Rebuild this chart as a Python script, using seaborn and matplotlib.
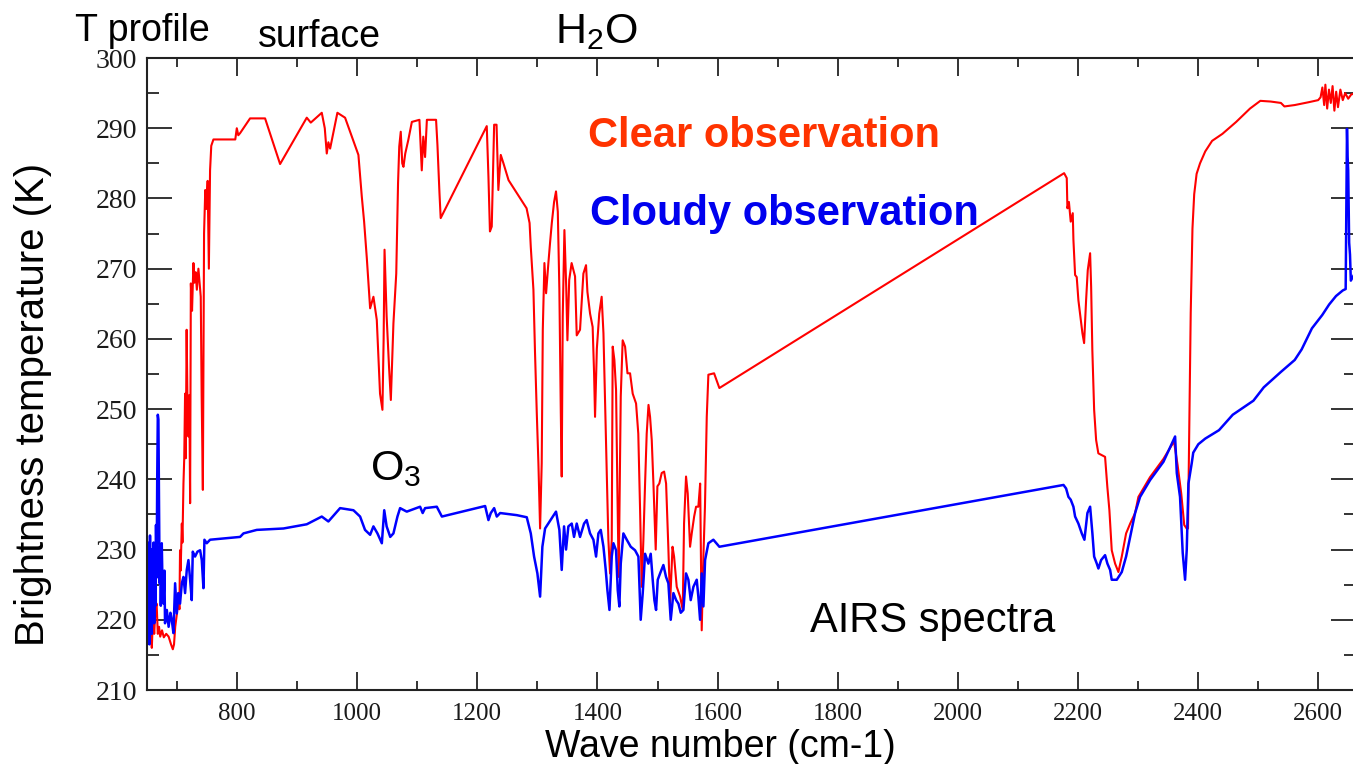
"""
Spectres AIRS : température de brillance, observation claire vs nuageuse
"""

import numpy as np
import pandas as pd
import matplotlib
matplotlib.use("Agg")
import matplotlib.pyplot as plt
from matplotlib.ticker import MultipleLocator
import seaborn as sns


# Observation claire (rouge) : nombre d'onde (cm-1) et température (K)
wn_clear = [
    650, 652, 653, 654, 656, 658, 660, 662, 664, 666, 668, 670, 672, 675, 678,
    682, 686, 690, 693, 695, 697, 700, 702, 704, 705, 706, 708, 709, 710.7, 712,
    713.4, 714.5, 716, 717.5, 719, 720.5, 721.8, 723, 725, 727.3, 729, 731, 733,
    735.6, 737.5, 739.5, 741, 743, 745, 747, 749, 751, 753, 755, 757, 760.6, 797,
    799.5, 802, 805, 821.6, 846.6, 871.6, 916, 922.7, 941, 946, 949.3, 952, 954.9,
    967, 979.8, 1002, 1007.6, 1011.5, 1016, 1021.5, 1027, 1032.6, 1038, 1042,
    1044, 1045.5, 1049, 1053, 1056, 1060.3, 1065, 1068, 1070, 1072.5, 1075, 1077,
    1080, 1085, 1091, 1103.6, 1107.5, 1110, 1113, 1116, 1131.3, 1133.6, 1137,
    1139, 1215.7, 1218.5, 1221, 1224, 1228, 1232, 1235, 1239, 1243.5, 1252, 1282,
    1287, 1289, 1293.4, 1296, 1299, 1301.7, 1304.5, 1307.2, 1309, 1311.7, 1314.5,
    1318.3, 1321, 1324, 1327.8, 1331, 1334, 1336.6, 1339, 1340.5, 1342.2, 1345,
    1348, 1350, 1353, 1357, 1362.7, 1365.5, 1371, 1376.6, 1381, 1383.3, 1387.7,
    1392, 1394.4, 1396, 1399, 1403, 1407, 1410, 1412.7, 1415.5, 1418.2, 1421,
    1423.8, 1425.4, 1428.2, 1431, 1433.2, 1435.4, 1438.8, 1442, 1446, 1450,
    1454.3, 1458.7, 1464.3, 1468, 1471, 1473.7, 1476.5, 1479.3, 1482, 1485,
    1487.6, 1490.4, 1493.2, 1497, 1499.8, 1503, 1507, 1511, 1514.3, 1518, 1521,
    1525, 1527.6, 1532, 1537.6, 1542, 1544.2, 1547.5, 1550.3, 1554.2, 1557, 1561,
    1564.2, 1568, 1571, 1573.6, 1576.4, 1579, 1582, 1584.7, 1594.2, 1603, 2177,
    2181.4, 2182.5, 2185, 2188, 2191.4, 2192.5, 2195.3, 2198, 2200.8, 2204.7,
    2207.5, 2210.3, 2213.6, 2216.4, 2220.3, 2222, 2224, 2227, 2230.3, 2234,
    2245.2, 2249, 2252.4, 2256.3, 2261.9, 2267.4, 2273, 2280.2, 2287, 2295.2,
    2300.7, 2320, 2342.3, 2360, 2366, 2372, 2377, 2381, 2383.3, 2385, 2387.8,
    2390.7, 2393.6, 2397.6, 2403.3, 2412, 2423.4, 2440.6, 2463.5, 2486.5, 2503.7,
    2520.9, 2538, 2543.8, 2561, 2584, 2600, 2604, 2607, 2610, 2612, 2615, 2618,
    2621, 2624, 2627, 2630, 2633, 2637, 2641, 2645, 2650, 2655, 2662,
]
tb_clear = [
    216.5, 222, 231, 217, 219, 216, 220.5, 218, 221.5, 222.3, 218, 219, 217.6,
    218.5, 217.5, 218, 217.6, 216.5, 215.8, 216.5, 219, 221, 223.8, 221.5, 229.9,
    227, 233.7, 231, 239.4, 243, 252.2, 243, 261.3, 250, 246.1, 252, 236.6, 267.9,
    264, 270.8, 268, 269.5, 267, 270, 268, 266, 252, 238.5, 275, 281.2, 278.5,
    282.5, 270, 284, 287.5, 288.4, 288.4, 290, 289, 289.3, 291.4, 291.4, 284.9,
    291.5, 290.8, 292.2, 290, 286.4, 288, 287.1, 292.2, 291.5, 286.2, 280.3,
    276.7, 271.5, 264.35, 266, 262.7, 252.2, 249.9, 260, 272.7, 263.2, 256, 251.3,
    262.2, 269.3, 282.2, 287.4, 289.5, 285, 284.5, 286.4, 288.3, 290.9, 291.2,
    284, 288.8, 285.9, 291.2, 291.2, 287.6, 280.7, 277.2, 290.3, 283.1, 275.3,
    276, 290.5, 290.5, 281.2, 286.2, 285, 282.6, 278.6, 276.5, 273.1, 267, 258.2,
    249.4, 242.3, 233, 242.3, 261.3, 270.8, 266.5, 270.8, 273.6, 276.5, 279.5,
    281, 278.1, 267, 249.4, 240.4, 263.2, 275.5, 267.4, 259.8, 268.4, 270.8,
    268.9, 260.5, 261.3, 269.3, 270.5, 266.7, 263.6, 261.7, 255.1, 248.9, 258.6,
    263.6, 266, 260.8, 250.8, 240.9, 231.4, 226.6, 231.4, 258.9, 257, 252.7,
    238.5, 226.1, 251.8, 259.8, 258.9, 255.1, 255.1, 252.2, 250.8, 246.5, 235.6,
    224.7, 231.4, 239.4, 246.5, 250.6, 248.9, 245.6, 239.4, 230, 239, 239.4,
    240.9, 241.1, 239.4, 230.4, 222.3, 230.4, 229, 224.7, 223.3, 221.4, 233.7,
    240.4, 238, 230.4, 232.3, 234.7, 236.1, 236.1, 239.4, 218.5, 229, 236.1,
    248.9, 254.9, 255.1, 253, 283.6, 282.9, 278.6, 279.5, 276.7, 277.9, 274.1,
    269.1, 268.8, 265.5, 262.7, 260.8, 259.4, 265.5, 269.8, 272.2, 267.4, 258.4,
    249.9, 245.6, 243.7, 243.2, 238.9, 235.6, 229.9, 228, 226.8, 229, 232.3,
    233.7, 235.2, 237.5, 240.3, 242.9, 245.4, 242, 238, 233.5, 233, 233, 244.5,
    263.7, 275.7, 280.6, 283.5, 285, 286.7, 288.2, 289.2, 290.9, 292.8, 293.9,
    293.8, 293.6, 293.1, 293.3, 293.7, 294, 294.4, 295.8, 293.3, 296.2, 292.8,
    295.5, 293.6, 296, 292.5, 295.2, 293, 295.5, 294, 295, 294.2, 294.8, 295,
]

# Observation nuageuse (bleu)
wn_cloudy = [
    650, 651, 652, 653, 654, 655, 656, 657, 658, 659, 660, 661, 662, 663, 664,
    665, 666, 667, 668, 669, 670, 671, 672, 673, 674.6, 676, 677.4, 679, 680, 683,
    686, 689, 691.2, 694, 696.8, 699.6, 702.3, 705, 708, 710.7, 713.4, 716.2, 719,
    721.8, 724.5, 726.2, 730, 734, 738.4, 741.2, 744, 745.6, 749.5, 755, 805,
    810.6, 832.8, 877.2, 916, 941, 952, 971.5, 993.7, 1004.8, 1013, 1021.5, 1027,
    1033.7, 1041, 1045, 1049, 1055, 1060.3, 1067, 1071.4, 1082.5, 1104.7, 1109,
    1113, 1132.5, 1141, 1213, 1218.5, 1222.4, 1228, 1232.4, 1238, 1265.7, 1282.3,
    1289, 1294.5, 1300, 1304.5, 1308.3, 1312.8, 1331, 1336.6, 1340.5, 1344.4,
    1347.7, 1351.6, 1357.2, 1361, 1365.5, 1371, 1377.7, 1382, 1387.7, 1393.3,
    1397.7, 1401.6, 1405.5, 1410, 1413.8, 1416.6, 1420, 1423.8, 1426.6, 1431,
    1433.8, 1436.5, 1438.8, 1443.2, 1448.8, 1455.4, 1462.6, 1468.2, 1472, 1475.4,
    1479.3, 1484.8, 1488.7, 1492, 1494.8, 1497.6, 1500.4, 1504.3, 1509.8, 1514.2,
    1518.1, 1522, 1526.5, 1531, 1534.8, 1538.7, 1543.1, 1547.5, 1551.4, 1555.3,
    1559.8, 1565.3, 1568, 1570.9, 1573.6, 1576.4, 1579.2, 1584.7, 1593, 1603,
    2176, 2180.3, 2184.2, 2188, 2192.5, 2195.3, 2200.8, 2206.4, 2210.8, 2215.8,
    2220.3, 2224.1, 2227, 2231.4, 2234.1, 2238.6, 2245.2, 2249.1, 2253.6, 2256.3,
    2264.7, 2273, 2280.2, 2287, 2295.2, 2303.5, 2320.2, 2342.4, 2361.8, 2364.6,
    2370, 2374.5, 2378.4, 2381.2, 2384, 2389.5, 2392, 2400.5, 2412, 2434.9,
    2457.8, 2475, 2492.2, 2509.4, 2538, 2561, 2572.5, 2589.6, 2606.8, 2618.3,
    2629.7, 2641, 2645.8, 2647, 2648, 2649, 2650, 2651.6, 2653, 2654.4, 2664,
]
tb_cloudy = [
    224, 231, 219, 229, 216.5, 232, 220, 230, 218, 227, 221, 231, 219.5, 228, 222,
    233.5, 226, 240, 249.2, 248.5, 236, 225.2, 230.5, 222, 230.9, 224, 222.3, 227,
    219.5, 221.4, 219, 221, 220, 218.1, 225.2, 220.9, 223.8, 222.3, 225.2, 226.1,
    223.8, 227.1, 228.5, 225.7, 222.8, 229.7, 229, 229.7, 229.9, 228.5, 224.5,
    231.4, 230.9, 231.4, 231.8, 232.3, 232.8, 233, 233.6, 234.7, 234, 235.9,
    235.6, 234.7, 232.8, 232.1, 233.3, 232.3, 230.9, 235.6, 233.3, 231.8, 232.3,
    234.7, 235.9, 235.4, 236.1, 235.2, 235.9, 236.1, 234.7, 236.2, 234.2, 235.2,
    235.9, 234.7, 235.2, 234.9, 234.6, 232.3, 229, 226.6, 223.3, 230.4, 233,
    235.4, 232.8, 227.1, 233.3, 230, 233.3, 233.7, 231.8, 233.7, 231.8, 233.7,
    234.2, 232.3, 231.4, 229, 232.3, 232.8, 230.4, 227.1, 224.2, 221.4, 229,
    230.9, 229.9, 224.2, 221.9, 228, 232.3, 231.4, 230.4, 229.9, 229, 220, 223.8,
    229.4, 228, 229.4, 225.7, 222.8, 221.4, 225.7, 226.6, 227.8, 226.1, 225.2,
    220, 223.8, 222.8, 222.3, 221, 221.4, 226.6, 225.7, 222.8, 224.7, 225.7,
    223.3, 220, 226.6, 221.9, 228.5, 230.9, 231.4, 230.4, 239.2, 238.7, 237.5,
    237.1, 236.1, 234.7, 233.7, 232.3, 231.4, 235.2, 236.1, 232.3, 229, 228,
    227.3, 228.5, 229.2, 228, 227.1, 225.7, 225.7, 226.8, 229, 231.8, 235.2,
    237.5, 239.9, 242.5, 246.1, 240.9, 237.5, 229.5, 225.7, 230, 239.4, 242.3,
    243.8, 245, 245.8, 247, 249.2, 250.2, 251.2, 253.1, 255.3, 257, 258.5, 261.5,
    263.4, 264.9, 266.1, 266.9, 267.1, 280, 289.9, 286, 284, 273.7, 272, 268.3,
    269.8,
]

x_ticks = [800, 1000, 1200, 1400, 1600, 1800, 2000, 2200, 2400, 2600]
y_ticks = [210, 220, 230, 240, 250, 260, 270, 280, 290, 300]

W, H = 1353, 764


def fx(px):
    return px / W


def fy(py):
    return 1 - py / H


def main():
    sns.set_theme(style="ticks")
    plt.rcParams["font.family"] = ["Liberation Sans", "DejaVu Sans"]
    plt.rcParams["mathtext.default"] = "regular"
    plt.rcParams["text.color"] = "black"
    plt.rcParams["axes.labelcolor"] = "black"

    fig = plt.figure(figsize=(W / 100, H / 100), dpi=100)
    fig.patch.set_facecolor("white")

    # axes placées au pixel près (bord droit coupé comme l'original)
    ax = fig.add_axes([fx(147), fy(690), (1356 - 147) / W, (690 - 58) / H])
    ax.set_facecolor("white")

    df_clear = pd.DataFrame({"wn": wn_clear, "tb": tb_clear})
    df_cloudy = pd.DataFrame({"wn": wn_cloudy, "tb": tb_cloudy})

    sns.lineplot(data=df_clear, x="wn", y="tb", color="#ff0000", lw=1.5,
                 estimator=None, sort=False, ax=ax, legend=False)
    sns.lineplot(data=df_cloudy, x="wn", y="tb", color="#0000ff", lw=1.8,
                 estimator=None, sort=False, ax=ax, legend=False)

    ax.set_xlim(650, 2663)
    ax.set_ylim(210, 300)
    ax.set_xticks(x_ticks)
    ax.set_yticks(y_ticks)
    ax.xaxis.set_minor_locator(MultipleLocator(100))
    ax.yaxis.set_minor_locator(MultipleLocator(5))

    for side in ["top", "bottom", "left", "right"]:
        ax.spines[side].set_visible(True)
        ax.spines[side].set_linewidth(1.5)
        ax.spines[side].set_color("#222222")

    ax.tick_params(axis="both", which="both", direction="in", top=True,
                   right=True, color="#333333", width=1.4)
    ax.tick_params(axis="x", which="major", length=13, pad=9)
    ax.tick_params(axis="x", which="minor", length=6.5)
    ax.tick_params(axis="y", which="major", length=18, pad=7)
    ax.tick_params(axis="y", which="minor", length=8.5)

    for lab in ax.get_xticklabels():
        lab.set_fontfamily("Liberation Serif")
        lab.set_fontsize(18)
        lab.set_color("#1a1a1a")
    for lab in ax.get_yticklabels():
        lab.set_fontfamily("Liberation Serif")
        lab.set_fontsize(20)
        lab.set_color("#1a1a1a")

    ax.set_xlabel("Wave number (cm-1)", fontsize=27, color="black")
    ax.xaxis.label.set_va("baseline")
    ax.xaxis.set_label_coords((720 - 147) / (1356 - 147), (690 - 757) / 632)
    ax.set_ylabel("Brightness temperature (K)", fontsize=29, color="black")
    ax.yaxis.set_label_coords((52 - 147) / (1356 - 147), (690 - 404) / 632)

    # annotations
    fig.text(fx(75), fy(41), "T profile", fontsize=27, va="baseline")
    fig.text(fx(258), fy(47), "surface", fontsize=27, va="baseline")
    fig.text(fx(555), fy(43), r"H$_2$O", fontsize=31, va="baseline")
    fig.text(fx(370), fy(480), r"O$_3$", fontsize=31, va="baseline")
    fig.text(fx(588), fy(147), "Clear observation", fontsize=30,
             fontweight="bold", color="#ff3300", va="baseline")
    fig.text(fx(590), fy(225), "Cloudy observation", fontsize=30,
             fontweight="bold", color="#0000ee", va="baseline")
    fig.text(fx(810), fy(632), "AIRS spectra", fontsize=30, va="baseline")

    fig.savefig("out.png", dpi=100, facecolor="white")
    plt.close(fig)


if __name__ == "__main__":
    main()
